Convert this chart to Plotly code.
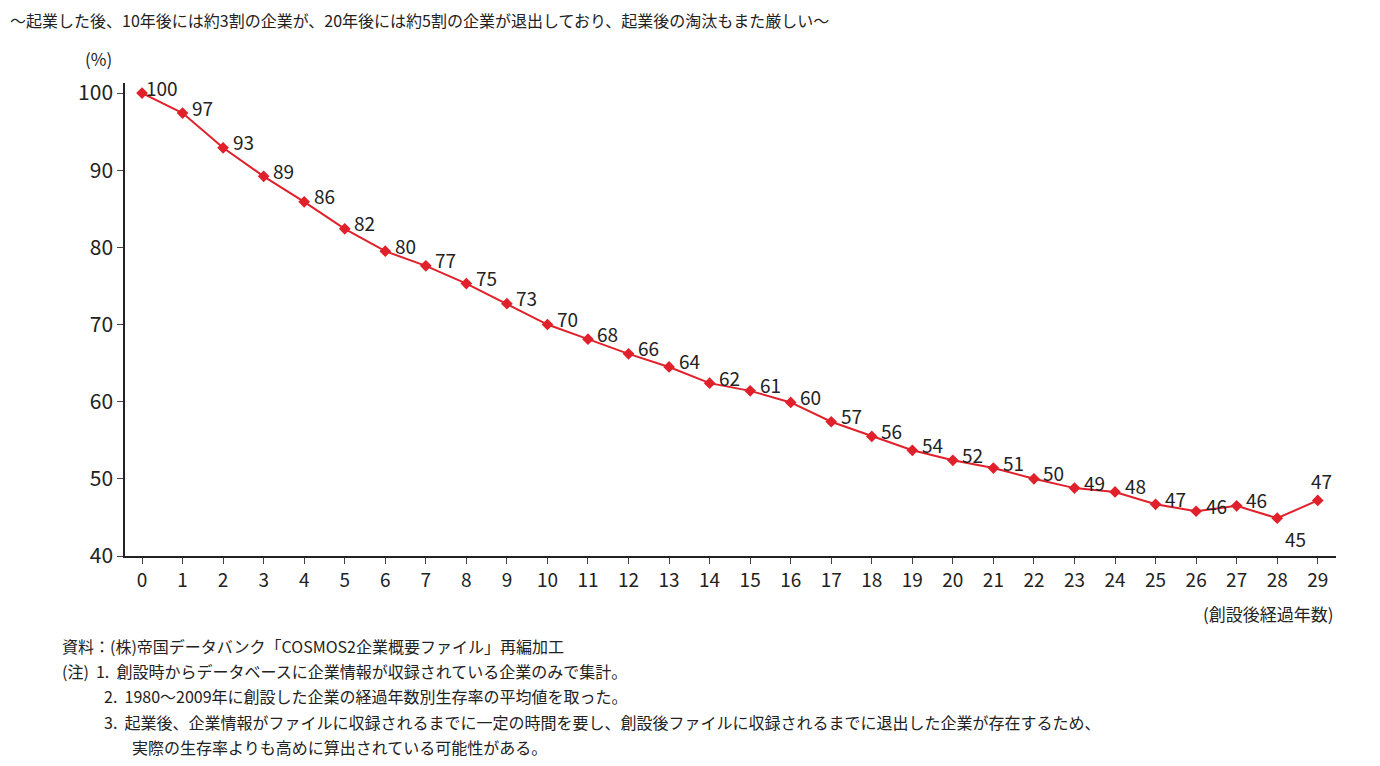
import plotly.graph_objects as go

years = list(range(30))
survival = [100, 97.4, 92.9, 89.2, 85.9, 82.4, 79.5, 77.6, 75.3, 72.7,
            70.0, 68.1, 66.2, 64.5, 62.4, 61.4, 59.9, 57.4, 55.5, 53.7,
            52.4, 51.4, 50.0, 48.8, 48.3, 46.7, 45.8, 46.5, 44.9, 47.2]
labels = [100, 97, 93, 89, 86, 82, 80, 77, 75, 73, 70, 68, 66, 64, 62, 61,
          60, 57, 56, 54, 52, 51, 50, 49, 48, 47, 46, 46, 45, 47]

FONT = "Noto Sans CJK JP, Noto Sans, sans-serif"
RED = "#e0202a"

fig = go.Figure()
fig.add_trace(go.Scatter(
    x=years, y=survival, mode="lines+markers",
    line=dict(color=RED, width=2),
    marker=dict(symbol="diamond", size=9, color=RED),
    showlegend=False, cliponaxis=False,
))
for i, (xv, yv, lab) in enumerate(zip(years, survival, labels)):
    if i == 28:
        xs, ys = 18, -20
    elif i == 29:
        xs, ys = 4, 20
    else:
        xs, ys = 20, 6
    fig.add_annotation(x=xv, y=yv, text=str(lab), showarrow=False,
                       xshift=xs, yshift=ys,
                       font=dict(size=19, color="#222", family=FONT))

fig.update_layout(
    width=1380, height=766, plot_bgcolor="white", paper_bgcolor="white",
    margin=dict(l=117, r=52, t=75, b=218, autoexpand=False),
    font=dict(family=FONT, color="#222"),
    xaxis=dict(range=[-0.42, 29.45], tickvals=years, showgrid=False,
               showline=True, linecolor="#222", linewidth=1.5,
               ticks="outside", ticklen=6, tickfont=dict(size=19)),
    yaxis=dict(range=[40, 101.3], tickvals=[40, 50, 60, 70, 80, 90, 100],
               showgrid=False, showline=True, linecolor="#222", linewidth=1.5,
               ticks="outside", ticklen=6, tickfont=dict(size=21)),
)

notes = [
    (0, 12, 16, "～起業した後、10年後には約3割の企業が、20年後には約5割の企業が退出しており、起業後の淘汰もまた厳しい～"),
    (75, 50, 17, "(%)"),
    (52, 638, 16, "資料：(株)帝国データバンク「COSMOS2企業概要ファイル」再編加工"),
    (52, 663, 16, "(注)  1.  創設時からデータベースに企業情報が収録されている企業のみで集計。"),
    (94, 688, 16, "2.  1980～2009年に創設した企業の経過年数別生存率の平均値を取った。"),
    (94, 714, 16, "3.  起業後、企業情報がファイルに収録されるまでに一定の時間を要し、創設後ファイルに収録されるまでに退出した企業が存在するため、"),
    (122, 739, 16, "実際の生存率よりも高めに算出されている可能性がある。"),
]
for x, y, s, t in notes:
    fig.add_annotation(xref="paper", yref="paper", x=(x - 117) / 1211,
                       y=1 - (y - 75) / 473, xanchor="left", yanchor="middle",
                       text=t, showarrow=False, font=dict(size=s))
fig.add_annotation(xref="paper", yref="paper", x=1.0, y=1 - (605 - 75) / 473,
                   xanchor="right", yanchor="middle", text="(創設後経過年数)",
                   showarrow=False, font=dict(size=17))

fig.write_html("out.html")
